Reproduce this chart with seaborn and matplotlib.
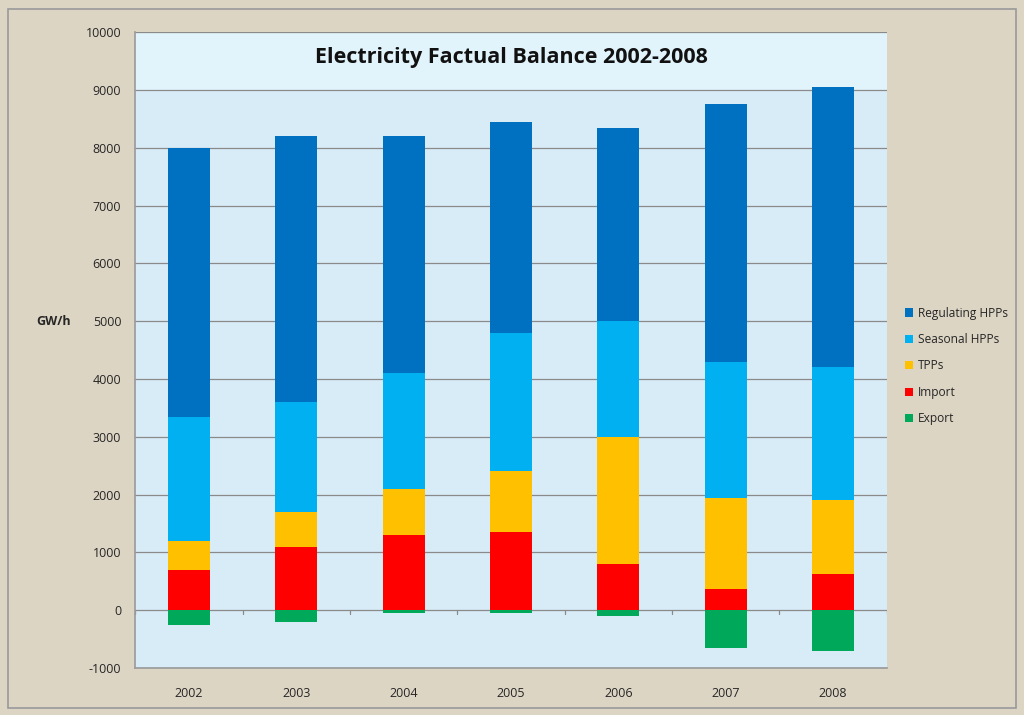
import numpy as np
import pandas as pd
import matplotlib
matplotlib.use("Agg")
import matplotlib.pyplot as plt
import seaborn as sns

years = ["2002", "2003", "2004", "2005", "2006", "2007", "2008"]
imports = [700, 1100, 1300, 1350, 800, 370, 630]
tpps = [500, 600, 800, 1050, 2200, 1580, 1270]
seasonal = [2150, 1900, 2000, 2400, 2000, 2350, 2300]
regulating = [4650, 4600, 4100, 3650, 3350, 4450, 4850]
exports = [-250, -200, -50, -50, -100, -650, -700]

series_names = ["Regulating HPPs", "Seasonal HPPs", "TPPs", "Import", "Export"]
colors = {"Regulating HPPs": "#0070C0", "Seasonal HPPs": "#00B0F0",
          "TPPs": "#FFC000", "Import": "#FF0000", "Export": "#00A85A"}

df = pd.DataFrame({"year": years, "Import": imports, "TPPs": tpps,
                   "Seasonal HPPs": seasonal, "Regulating HPPs": regulating,
                   "Export": exports})
df["c_import"] = df["Import"]
df["c_tpp"] = df["c_import"] + df["TPPs"]
df["c_seas"] = df["c_tpp"] + df["Seasonal HPPs"]
df["c_reg"] = df["c_seas"] + df["Regulating HPPs"]

sns.set_style("white")
plt.rcParams['font.family'] = ['Open Sans', 'DejaVu Sans']

fig = plt.figure(figsize=(10.24, 7.15), dpi=100)
fig.patch.set_facecolor("#ddd5c4")
ax = fig.add_axes([0.132, 0.0657, 0.734, 0.8893])
ax.set_facecolor("#d8ecf8")

# title band
ax.axhspan(9000, 10000, color="#e2f4fb", zorder=0)

for v in range(-1000, 10001, 1000):
    ax.axhline(v, color="#8a8a8a", lw=0.9, zorder=1)

w = 0.39
layers = [("c_reg", "Regulating HPPs"), ("c_seas", "Seasonal HPPs"),
          ("c_tpp", "TPPs"), ("c_import", "Import"), ("Export", "Export")]
for col, name in layers:
    sns.barplot(data=df, x="year", y=col, color=colors[name], width=w,
                ax=ax, zorder=3, saturation=1, label=name, errorbar=None,
                linewidth=0, edgecolor="none")

ax.set_ylim(-1000, 10000)
ax.set_xlim(-0.5, 6.5)
ax.set_yticks(range(-1000, 10001, 1000))
ax.set_yticklabels([str(v) for v in range(-1000, 10001, 1000)], fontsize=9)
ax.tick_params(axis="y", length=4, color="#8a8a8a", pad=6)
ax.tick_params(axis="x", length=0, labelsize=9, pad=14)
ax.set_xlabel("")
ax.set_ylabel("GW/h", rotation=0, fontsize=9, fontweight="bold", labelpad=40)
ax.yaxis.set_label_coords(-0.108, 0.535)

# x ticks at category boundaries on zero line
for b in np.arange(-0.5, 7.0, 1.0):
    ax.plot([b, b], [0, -60], color="#8a8a8a", lw=0.9, zorder=2)

for s in ["top", "right"]:
    ax.spines[s].set_visible(False)
for s in ["left", "bottom"]:
    ax.spines[s].set_color("#9a9a9a")
    ax.spines[s].set_linewidth(1.2)

ax.text(3.0, 9560, "Electricity Factual Balance 2002-2008", ha="center",
        va="center", fontsize=15.5, fontweight="bold", color="#111111", zorder=5)

handles, labels = ax.get_legend_handles_labels()
leg = ax.legend(handles, labels, loc="center left", bbox_to_anchor=(1.01, 0.475),
                frameon=False, fontsize=8.6, handlelength=0.7, handleheight=0.7,
                handletextpad=0.35, labelspacing=1.12)

# outer frame
fig.add_artist(plt.Rectangle((0.008, 0.01), 0.984, 0.978, fill=False,
                             edgecolor="#9a9a9a", lw=1.2, transform=fig.transFigure))

fig.savefig("out.png", dpi=100, facecolor=fig.get_facecolor())
